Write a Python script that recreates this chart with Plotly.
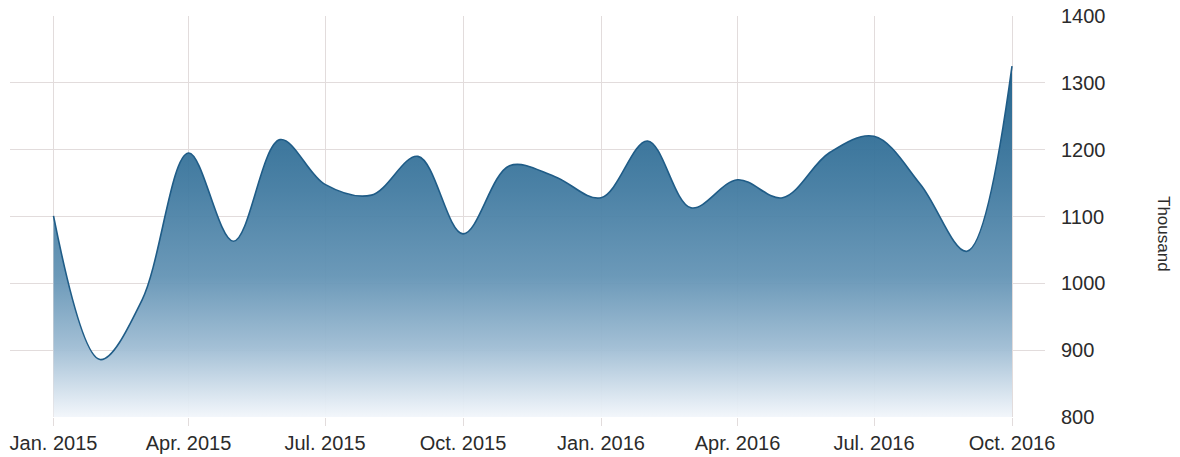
import plotly.graph_objects as go

dates = ["2015-01-01", "2015-02-01", "2015-03-01", "2015-04-01", "2015-05-01", "2015-06-01",
         "2015-07-01", "2015-08-01", "2015-09-01", "2015-10-01", "2015-11-01", "2015-12-01",
         "2016-01-01", "2016-02-01", "2016-03-01", "2016-04-01", "2016-05-01", "2016-06-01",
         "2016-07-01", "2016-08-01", "2016-09-01", "2016-10-01"]
values = [1101, 886, 975, 1195, 1063, 1215,
          1148, 1132, 1190, 1074, 1176, 1160,
          1128, 1213, 1113, 1155, 1128, 1195,
          1220, 1148, 1048, 1325]

tick_vals = ["2015-01-01", "2015-04-01", "2015-07-01", "2015-10-01",
             "2016-01-01", "2016-04-01", "2016-07-01", "2016-10-01"]
tick_text = ["Jan. 2015", "Apr. 2015", "Jul. 2015", "Oct. 2015",
             "Jan. 2016", "Apr. 2016", "Jul. 2016", "Oct. 2016"]
y_ticks = [800, 900, 1000, 1100, 1200, 1300, 1400]

fig = go.Figure()
fig.add_trace(go.Scatter(
    x=dates, y=values,
    mode="lines",
    line=dict(color="#1f5c87", width=1.6, shape="spline", smoothing=1),
    fill="tozeroy",
    fillgradient=dict(
        type="vertical",
        start=800, stop=1325,
        colorscale=[
            [0.0, "rgba(242,246,251,0.95)"],
            [0.2, "rgba(158,188,211,0.95)"],
            [0.4, "rgba(100,148,181,0.95)"],
            [0.65, "rgba(66,123,161,0.95)"],
            [1.0, "rgba(30,96,138,0.97)"],
        ],
    ),
    hoverinfo="x+y",
    showlegend=False,
))

grid = "#e2dcdc"
font_color = "#2b2b2b"

fig.update_layout(
    width=1180, height=457,
    margin=dict(l=10, r=135, t=16, b=40, autoexpand=False),
    paper_bgcolor="white",
    plot_bgcolor="white",
    font=dict(family="Liberation Sans, Arial, sans-serif", size=20, color=font_color),
    xaxis=dict(
        type="date",
        range=["2014-12-03", "2016-10-23"],
        tickvals=tick_vals, ticktext=tick_text,
        showgrid=True, gridcolor=grid, gridwidth=1,
        ticks="outside", ticklen=8, tickcolor=grid, tickwidth=1,
        showline=False, zeroline=False, automargin=False,
        tickfont=dict(size=20, color=font_color),
    ),
    yaxis=dict(
        side="right",
        range=[800, 1400],
        tickvals=y_ticks,
        showgrid=True, gridcolor=grid, gridwidth=1,
        showline=False, zeroline=False, automargin=False,
        ticks="", ticklabelstandoff=15,
        tickfont=dict(size=20, color=font_color),
    ),
    annotations=[dict(
        text="Thousand", textangle=90,
        xref="paper", yref="paper",
        x=(1164 - 10) / 1035, y=(417 - 234) / 401,
        xanchor="center", yanchor="middle",
        showarrow=False,
        font=dict(size=17, color=font_color),
    )],
)

fig.write_html(
    "out.html",
    config={"displayModeBar": False},
    post_script="document.body.style.margin='0';document.body.style.overflow='hidden';",
)
